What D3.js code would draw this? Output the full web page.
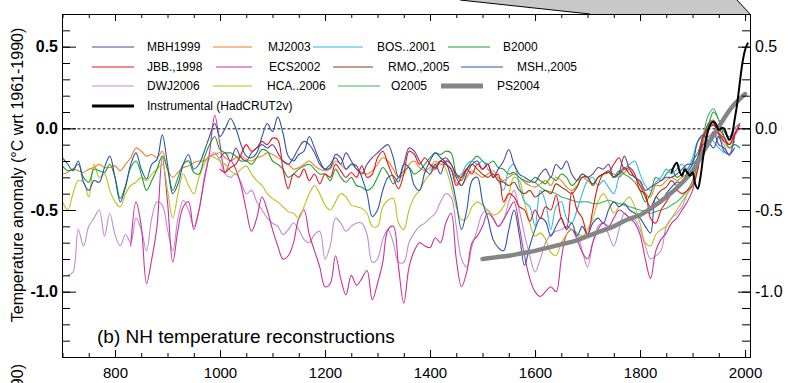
<!DOCTYPE html>
<html><head><meta charset="utf-8">
<script src="https://cdn.jsdelivr.net/npm/d3@7"></script>
<style>
body{margin:0;background:#fff}
svg{display:block}
text{font-family:"Liberation Sans",Arial,Helvetica,sans-serif}
</style>
</head><body>
<svg id="chart" width="789" height="383"></svg>
<script>
// ---------------- DATA ----------------
const seriesNames = ["MBH1999","MJ2003","BOS..2001","B2000","JBB.,1998","ECS2002","RMO.,2005","MSH.,2005","DWJ2006","HCA..2006","O2005","PS2004","Instrumental (HadCRUT2v)"];
const seriesColors = ["#54479f","#f0821e","#34b9e0","#1f9e2e","#e8141c","#c8329c","#8e3a1c","#2a55a8","#c38ad3","#b8c21c","#3cb35e","#858585","#000000"];
const startYears = [1000,700,1400,700,1000,830,1400,700,710,700,1600,1500,1860];
const yearSteps  = [10,10,10,10,10,10,10,10,10,10,10,25,5];

const mbh1999 = [-0.18,-0.15,-0.20,-0.12,-0.18,-0.20,-0.15,-0.12,-0.10,-0.12,
 -0.10,-0.15,-0.20,-0.22,-0.18,-0.12,-0.08,-0.10,-0.15,-0.22,
 -0.25,-0.22,-0.18,-0.22,-0.15,-0.20,-0.25,-0.28,-0.22,-0.18,
 -0.15,-0.12,-0.10,-0.18,-0.30,-0.22,-0.12,-0.14,-0.20,-0.25,
 -0.28,-0.22,-0.28,-0.20,-0.22,-0.30,-0.35,-0.28,-0.22,-0.20,
 -0.25,-0.22,-0.30,-0.25,-0.20,-0.13,-0.22,-0.28,-0.30,-0.32,
 -0.33,-0.28,-0.25,-0.30,-0.22,-0.25,-0.20,-0.28,-0.32,-0.28,
 -0.30,-0.28,-0.24,-0.25,-0.22,-0.30,-0.27,-0.17,-0.25,-0.30,
 -0.32,-0.38,-0.36,-0.34,-0.32,-0.30,-0.30,-0.28,-0.25,-0.22,
 -0.22,-0.18,-0.10,-0.08,-0.02,-0.10,-0.12,-0.16,-0.05];
const mj2003 = [-0.28,-0.27,-0.25,-0.26,-0.27,-0.25,-0.24,-0.22,-0.24,-0.24,
 -0.23,-0.26,-0.22,-0.18,-0.12,-0.14,-0.17,-0.16,-0.18,-0.14,
 -0.25,-0.30,-0.27,-0.24,-0.23,-0.21,-0.20,-0.20,-0.17,-0.16,
 -0.15,-0.18,-0.20,-0.18,-0.17,-0.19,-0.20,-0.18,-0.17,-0.15,
 -0.16,-0.18,-0.20,-0.22,-0.25,-0.24,-0.22,-0.20,-0.23,-0.25,
 -0.26,-0.25,-0.20,-0.22,-0.25,-0.22,-0.25,-0.27,-0.28,-0.26,
 -0.22,-0.18,-0.20,-0.25,-0.30,-0.28,-0.22,-0.20,-0.24,-0.26,
 -0.24,-0.20,-0.22,-0.22,-0.25,-0.33,-0.35,-0.30,-0.26,-0.28,
 -0.30,-0.28,-0.26,-0.30,-0.32,-0.30,-0.28,-0.30,-0.33,-0.35,
 -0.36,-0.34,-0.32,-0.35,-0.30,-0.32,-0.36,-0.38,-0.35,-0.30,
 -0.32,-0.34,-0.30,-0.28,-0.27,-0.28,-0.30,-0.27,-0.25,-0.30,
 -0.33,-0.40,-0.42,-0.35,-0.35,-0.32,-0.30,-0.32,-0.30,-0.28,
 -0.25,-0.18,-0.08,0.00,0.02,-0.03,-0.08,-0.10,-0.05];
const bos2001 = [-0.26,-0.22,-0.20,-0.22,-0.25,-0.30,-0.28,-0.22,-0.20,-0.22,
 -0.20,-0.25,-0.28,-0.32,-0.38,-0.25,-0.22,-0.35,-0.45,-0.48,
 -0.60,-0.38,-0.45,-0.62,-0.48,-0.45,-0.55,-0.58,-0.50,-0.40,
 -0.32,-0.30,-0.35,-0.32,-0.36,-0.40,-0.30,-0.25,-0.22,-0.20,
 -0.28,-0.35,-0.38,-0.33,-0.30,-0.25,-0.28,-0.25,-0.22,-0.25,
 -0.18,-0.08,-0.05,-0.05,-0.08,-0.12,-0.15];
const b2000 = [-0.23,-0.26,-0.25,-0.22,-0.30,-0.33,-0.25,-0.26,-0.27,-0.22,
 -0.30,-0.43,-0.35,-0.24,-0.20,-0.28,-0.38,-0.32,-0.25,-0.17,
 -0.25,-0.38,-0.30,-0.22,-0.20,-0.27,-0.28,-0.18,-0.10,-0.05,
 -0.13,-0.15,-0.15,-0.17,-0.20,-0.20,-0.22,-0.18,-0.13,-0.14,
 -0.20,-0.22,-0.25,-0.30,-0.28,-0.25,-0.23,-0.22,-0.25,-0.28,
 -0.28,-0.32,-0.25,-0.30,-0.33,-0.30,-0.35,-0.36,-0.38,-0.36,
 -0.30,-0.24,-0.28,-0.34,-0.30,-0.26,-0.24,-0.28,-0.26,-0.22,
 -0.18,-0.15,-0.16,-0.14,-0.15,-0.28,-0.32,-0.25,-0.20,-0.17,
 -0.20,-0.22,-0.20,-0.24,-0.25,-0.28,-0.27,-0.30,-0.32,-0.33,
 -0.30,-0.32,-0.34,-0.30,-0.32,-0.28,-0.30,-0.35,-0.32,-0.28,
 -0.30,-0.34,-0.30,-0.28,-0.27,-0.30,-0.26,-0.28,-0.30,-0.33,
 -0.38,-0.45,-0.40,-0.30,-0.32,-0.28,-0.25,-0.30,-0.28,-0.25,
 -0.20,-0.15,-0.05,0.02,0.10,0.05,-0.05,-0.12,-0.10,-0.12];
const jbb1998 = [-0.25,-0.27,-0.24,-0.22,-0.16,-0.10,-0.14,-0.12,-0.08,-0.10,
 -0.06,-0.07,-0.25,-0.37,-0.28,-0.30,-0.25,-0.32,-0.28,-0.34,
 -0.28,-0.30,-0.22,-0.26,-0.30,-0.27,-0.30,-0.23,-0.30,-0.28,
 -0.18,-0.14,-0.22,-0.30,-0.37,-0.28,-0.14,-0.16,-0.22,-0.18,
 -0.22,-0.25,-0.20,-0.22,-0.25,-0.35,-0.30,-0.25,-0.28,-0.22,
 -0.25,-0.22,-0.30,-0.28,-0.45,-0.40,-0.42,-0.48,-0.50,-0.57,
 -0.50,-0.55,-0.48,-0.50,-0.41,-0.55,-0.61,-0.39,-0.50,-0.55,
 -0.65,-0.50,-0.35,-0.28,-0.27,-0.22,-0.18,-0.25,-0.24,-0.28,
 -0.38,-0.40,-0.55,-0.58,-0.50,-0.45,-0.40,-0.38,-0.40,-0.38,
 -0.35,-0.25,-0.05,0.00,0.02,-0.03,-0.06,-0.10,-0.04,0.02];
const ecs2002 = [-0.72,-0.45,-0.60,-0.95,-0.80,-0.60,-0.18,
 -0.45,-0.82,-0.62,-0.48,-0.45,-0.62,-0.50,-0.32,-0.15,0.08,
 -0.10,-0.27,-0.20,-0.25,-0.35,-0.50,-0.63,-0.55,-0.42,-0.50,
 -0.62,-0.72,-0.80,-0.78,-0.70,-0.55,-0.50,-0.65,-0.75,-0.85,
 -0.97,-0.95,-0.78,-0.92,-1.02,-0.90,-0.96,-0.92,-0.87,-1.05,
 -0.95,-0.82,-0.62,-0.60,-0.85,-1.07,-0.85,-0.75,-0.70,-0.72,
 -0.73,-0.67,-0.70,-0.58,-0.52,-0.80,-0.97,-0.88,-0.70,-0.66,
 -0.60,-0.52,-0.55,-0.60,-0.56,-0.50,-0.45,-0.60,-0.78,-0.92,
 -1.00,-1.03,-1.00,-0.97,-1.00,-0.80,-0.65,-0.62,-0.68,-0.76,
 -0.80,-0.70,-0.62,-0.58,-0.60,-0.55,-0.50,-0.52,-0.55,-0.58,
 -0.65,-0.80,-0.92,-0.75,-0.68,-0.64,-0.58,-0.55,-0.50,-0.45,
 -0.38,-0.25,-0.08,0.03,0.05,0.00,-0.05,-0.10,-0.03,0.03];
const rmo2005 = [-0.22,-0.24,-0.20,-0.18,-0.22,-0.28,-0.30,-0.25,-0.22,-0.25,
 -0.28,-0.30,-0.28,-0.32,-0.33,-0.35,-0.33,-0.38,-0.40,-0.38,
 -0.42,-0.40,-0.38,-0.40,-0.34,-0.36,-0.38,-0.40,-0.36,-0.30,
 -0.30,-0.35,-0.30,-0.28,-0.26,-0.30,-0.28,-0.24,-0.28,-0.30,
 -0.35,-0.42,-0.48,-0.42,-0.38,-0.36,-0.32,-0.35,-0.33,-0.30,
 -0.28,-0.18,-0.05,0.00,0.02,-0.04,-0.08];
const msh2005 = [-0.18,-0.22,-0.26,-0.20,-0.33,-0.38,-0.32,-0.33,-0.24,-0.17,
 -0.30,-0.45,-0.36,-0.22,-0.15,-0.25,-0.31,-0.22,-0.19,-0.04,
 -0.22,-0.40,-0.34,-0.22,-0.16,-0.25,-0.22,-0.14,-0.05,0.03,
 -0.05,0.00,0.06,0.00,-0.10,-0.17,-0.18,-0.15,-0.05,0.03,
 -0.02,0.07,-0.03,-0.17,-0.20,-0.16,-0.14,-0.05,-0.12,-0.20,
 -0.25,-0.24,-0.16,-0.18,-0.25,-0.22,-0.23,-0.30,-0.40,-0.54,
 -0.50,-0.38,-0.30,-0.29,-0.33,-0.22,-0.24,-0.35,-0.38,-0.27,
 -0.20,-0.15,-0.18,-0.21,-0.30,-0.45,-0.62,-0.50,-0.32,-0.30,
 -0.45,-0.55,-0.68,-0.73,-0.75,-0.62,-0.50,-0.65,-0.84,-0.72,
 -0.62,-0.55,-0.57,-0.66,-0.60,-0.55,-0.62,-0.58,-0.66,-0.60,
 -0.65,-0.58,-0.55,-0.58,-0.50,-0.45,-0.48,-0.46,-0.50,-0.52,
 -0.55,-0.60,-0.64,-0.42,-0.45,-0.40,-0.36,-0.33,-0.33,-0.27,
 -0.22,-0.08,-0.04,-0.08,-0.12,-0.05,-0.14,-0.16,-0.12];
const dwj2006 = [-0.90,-0.88,-0.62,-0.72,-0.60,-0.55,-0.50,-0.66,-0.52,
 -0.65,-0.72,-0.65,-0.70,-0.55,-0.62,-0.75,-0.55,-0.45,-0.47,
 -0.62,-0.75,-0.55,-0.44,-0.50,-0.60,-0.50,-0.30,-0.18,-0.15,
 -0.20,-0.28,-0.30,-0.28,-0.33,-0.40,-0.38,-0.45,-0.50,-0.55,
 -0.58,-0.60,-0.65,-0.62,-0.58,-0.62,-0.68,-0.70,-0.65,-0.63,
 -0.80,-0.72,-0.55,-0.58,-0.63,-0.60,-0.58,-0.58,-0.65,-0.82,
 -0.80,-0.68,-0.62,-0.70,-0.82,-0.82,-0.70,-0.64,-0.60,-0.58,
 -0.55,-0.52,-0.45,-0.40,-0.42,-0.60,-0.80,-0.85,-0.72,-0.62,
 -0.52,-0.50,-0.55,-0.60,-0.56,-0.45,-0.38,-0.50,-0.65,-0.78,
 -0.88,-0.80,-0.70,-0.65,-0.63,-0.62,-0.60,-0.62,-0.65,-0.75,
 -0.85,-0.70,-0.60,-0.58,-0.65,-0.72,-0.62,-0.52,-0.55,-0.56,
 -0.62,-0.72,-0.80,-0.78,-0.75,-0.60,-0.55,-0.52,-0.48,-0.40,
 -0.33,-0.22,-0.10,-0.05,-0.03,-0.06,-0.10,-0.17,-0.05,0.00];
const hca2006 = [-0.45,-0.50,-0.40,-0.32,-0.33,-0.42,-0.22,-0.30,-0.28,-0.38,
 -0.45,-0.48,-0.40,-0.35,-0.33,-0.30,-0.32,-0.28,-0.25,-0.22,
 -0.38,-0.55,-0.40,-0.28,-0.35,-0.40,-0.30,-0.22,-0.17,-0.18,
 -0.20,-0.22,-0.26,-0.28,-0.25,-0.23,-0.28,-0.32,-0.35,-0.40,
 -0.43,-0.45,-0.48,-0.51,-0.52,-0.55,-0.48,-0.40,-0.35,-0.40,
 -0.47,-0.50,-0.45,-0.40,-0.42,-0.47,-0.48,-0.49,-0.52,-0.60,
 -0.60,-0.48,-0.44,-0.43,-0.58,-0.62,-0.50,-0.42,-0.38,-0.32,
 -0.28,-0.24,-0.20,-0.25,-0.35,-0.48,-0.56,-0.55,-0.48,-0.45,
 -0.47,-0.50,-0.53,-0.52,-0.48,-0.40,-0.30,-0.32,-0.45,-0.58,
 -0.66,-0.64,-0.68,-0.76,-0.78,-0.70,-0.65,-0.62,-0.64,-0.66,
 -0.62,-0.55,-0.45,-0.40,-0.45,-0.52,-0.48,-0.45,-0.42,-0.48,
 -0.58,-0.70,-0.72,-0.65,-0.62,-0.60,-0.55,-0.50,-0.45,-0.40,
 -0.35,-0.22,-0.08,0.00,0.03,-0.02,-0.08,-0.12,-0.08];
const o2005 = [-0.33,-0.36,-0.38,-0.39,-0.40,-0.42,-0.43,-0.44,-0.45,-0.45,
 -0.45,-0.46,-0.46,-0.45,-0.44,-0.45,-0.46,-0.47,-0.48,-0.49,
 -0.50,-0.51,-0.52,-0.51,-0.50,-0.49,-0.47,-0.45,-0.42,-0.38,
 -0.32,-0.20,-0.05,0.08,0.12,0.05,-0.02,-0.05,0.00,0.03];
const ps2004 = [-0.80,-0.79,-0.78,-0.765,-0.75,-0.73,-0.71,-0.69,-0.66,-0.63,
 -0.60,-0.56,-0.53,-0.48,-0.42,-0.35,-0.26,-0.12,0.01,0.13,0.21];
const instrumental = [-0.27,-0.23,-0.21,-0.26,-0.29,-0.25,-0.27,-0.29,-0.27,-0.34,
 -0.37,-0.30,-0.18,-0.08,-0.01,0.03,0.04,0.02,-0.01,0.00,
 0.00,-0.04,-0.07,-0.04,0.05,0.15,0.28,0.40,0.48,0.52];
const seriesValues = [mbh1999,mj2003,bos2001,b2000,jbb1998,ecs2002,rmo2005,msh2005,dwj2006,hca2006,o2005,ps2004,instrumental];

const yLabelTicks = [-1.0,-0.5,0.0,0.5];
const xLabelTicks = [800,1000,1200,1400,1600,1800,2000];

// ---------------- CHART ----------------
const svg = d3.select("#chart");
const x = d3.scaleLinear().domain([700,2010]).range([62.5,750.3]);
const y = d3.scaleLinear().domain([-1.4,0.7]).range([357,14]);

// callout wedge from the panel above
svg.append("polygon").attr("points","460,0 590,14 750,14 737,0").attr("fill","#c8c8c8");
svg.append("line").attr("x1",460).attr("y1",0).attr("x2",590).attr("y2",14).attr("stroke","#000").attr("stroke-width",1);
svg.append("line").attr("x1",737).attr("y1",0).attr("x2",750).attr("y2",14).attr("stroke","#000").attr("stroke-width",1);

// zero line
svg.append("line").attr("x1",x(700)).attr("x2",x(2010)).attr("y1",y(0)+0.5).attr("y2",y(0)+0.5)
  .attr("stroke","#000").attr("stroke-width",1).attr("stroke-dasharray","3,2");

const line = d3.line().x(d=>x(d[0])).y(d=>y(d[1])).curve(d3.curveCatmullRom.alpha(0.5));
const drawOrder = [8,5,9,1,3,10,2,6,0,7,4,11,12];
const widths = {11:4.5, 12:2};
drawOrder.forEach(i=>{
  const pts = seriesValues[i].map((v,k)=>[startYears[i]+k*yearSteps[i], v]);
  svg.append("path").datum(pts).attr("d",line).attr("fill","none")
    .attr("stroke",seriesColors[i]).attr("stroke-width",widths[i]||1.1)
    .attr("stroke-linejoin","round").attr("stroke-linecap","round");
});

// axes
const fmt = d=>d.toFixed(1);
const yMinor = d3.range(-14,8).map(v=>v/10);
const xMinor = d3.range(700,2001,50);
function styleAxis(g){ g.selectAll("path,line").attr("stroke","#000").attr("stroke-width",1); g.attr("font-family",null).attr("font-size",null); }

svg.append("g").attr("transform","translate(62,0)")
  .call(d3.axisLeft(y).tickValues(yMinor).tickSize(-8).tickSizeOuter(0).tickFormat("")).call(styleAxis);
svg.append("g").attr("transform","translate(62,0)")
  .call(d3.axisLeft(y).tickValues(yLabelTicks).tickSize(-14).tickSizeOuter(0).tickPadding(4).tickFormat(fmt)).call(styleAxis)
  .selectAll("text").attr("font-size",16).attr("font-weight","bold").attr("fill","#000");
svg.append("g").attr("transform","translate(750,0)")
  .call(d3.axisRight(y).tickValues(yMinor).tickSize(-8).tickSizeOuter(0).tickFormat("")).call(styleAxis);
svg.append("g").attr("transform","translate(750,0)")
  .call(d3.axisRight(y).tickValues(yLabelTicks).tickSize(-12).tickSizeOuter(0).tickPadding(5).tickFormat(fmt)).call(styleAxis)
  .selectAll("text").attr("font-size",16).attr("fill","#000");
svg.append("g").attr("transform","translate(0,357)")
  .call(d3.axisBottom(x).tickValues(xMinor).tickSize(-4).tickSizeOuter(0).tickFormat("")).call(styleAxis);
svg.append("g").attr("transform","translate(0,357)")
  .call(d3.axisBottom(x).tickValues(xLabelTicks).tickSize(-7).tickSizeOuter(0).tickPadding(10).tickFormat(d3.format("d"))).call(styleAxis)
  .selectAll("text").attr("font-size",15).attr("fill","#000");
svg.append("g").attr("transform","translate(0,14)")
  .call(d3.axisTop(x).tickValues(xMinor).tickSize(-4).tickSizeOuter(0).tickFormat("")).call(styleAxis);
svg.append("g").attr("transform","translate(0,14)")
  .call(d3.axisTop(x).tickValues(xLabelTicks).tickSize(-7).tickSizeOuter(0).tickFormat("")).call(styleAxis);

// legend (line x1, line x2, text x, row y)
const legendLayout = [
  [92,134,147,47],[213,252,268,47],[313,363,377,47],[448,490,503,47],
  [92,134,147,67],[216,252,269,67],[333,373,388,67],[461,503,517,67],
  [92,134,147,86],[213,252,267,86],[338,380,391,86],[441,483,497,86],
  [92,134,147,106]
];
const legendWidths = {11:5, 12:3};
legendLayout.forEach((p,i)=>{
  svg.append("line").attr("x1",p[0]).attr("x2",p[1]).attr("y1",p[3]).attr("y2",p[3])
    .attr("stroke",seriesColors[i]).attr("stroke-width",legendWidths[i]||1.1);
  svg.append("text").attr("x",p[2]).attr("y",p[3]).attr("dy","0.36em")
    .attr("font-size",12).attr("fill","#000").text(seriesNames[i]);
});

// titles
svg.append("text").attr("x",97).attr("y",343).attr("font-size",19).attr("fill","#000")
  .text("(b) NH temperature reconstructions");
svg.append("text").attr("transform","translate(23,175) rotate(-90)").attr("text-anchor","middle")
  .attr("font-size",16).attr("fill","#000").text("Temperature anomaly  (°C wrt 1961-1990)");
// y-axis title of the panel below, cut by the picture edge as in the reference
svg.append("text").attr("transform","translate(23,364) rotate(-90)").attr("text-anchor","end")
  .attr("font-size",16).attr("fill","#000").text("(°C wrt 1961-1990)");
</script>
</body></html>
